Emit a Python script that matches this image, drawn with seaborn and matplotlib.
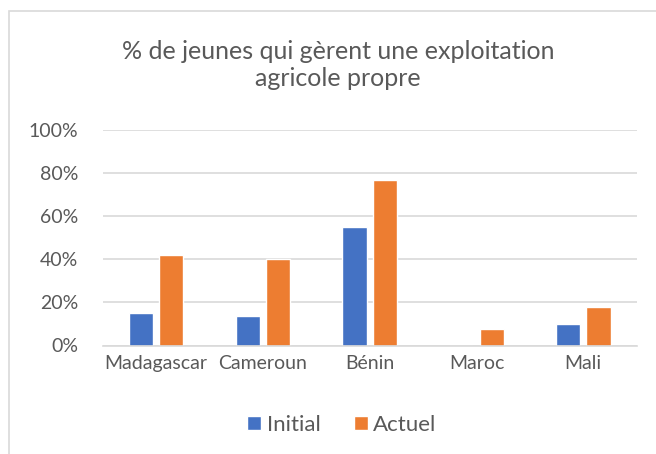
import matplotlib
matplotlib.use("Agg")
import matplotlib.pyplot as plt
import matplotlib.patches as mpatches
import pandas as pd
import seaborn as sns
from matplotlib.ticker import PercentFormatter

# values
countries = ["Madagascar", "Cameroun", "Bénin", "Maroc", "Mali"]
initial = [0.15, 0.135, 0.55, 0.0, 0.10]
actuel = [0.42, 0.40, 0.77, 0.075, 0.18]
series = ["Initial", "Actuel"]
colors = ["#4472C4", "#ED7D31"]
title = "% de jeunes qui gèrent une exploitation\nagricole propre"

df = pd.DataFrame({
    "pays": countries * 2,
    "serie": [series[0]] * len(countries) + [series[1]] * len(countries),
    "valeur": initial + actuel,
})

sns.set_theme(style="white")
plt.rcParams["font.family"] = ["Lato", "DejaVu Sans"]
txt = "#595959"

W, H = 656, 454
fig = plt.figure(figsize=(W / 100, H / 100), dpi=100)
left, right, top, bottom = 102.7, 636.7, 130, 345.5
ax = fig.add_axes([left / W, 1 - bottom / H, (right - left) / W, (bottom - top) / H])

sns.barplot(data=df, x="pays", y="valeur", hue="serie", order=countries,
            hue_order=series, palette=colors, width=0.57, gap=0.2,
            saturation=1, ax=ax, legend=True)

ax.set_ylim(0, 1.0)
ax.set_xlim(-0.5, 4.5)
ax.set_yticks([0, 0.2, 0.4, 0.6, 0.8, 1.0])
ax.yaxis.set_major_formatter(PercentFormatter(1.0, decimals=0))
ax.grid(axis="y", color="#D9D9D9", linewidth=1.2)
ax.set_axisbelow(True)
for s in ["top", "right", "left"]:
    ax.spines[s].set_visible(False)
ax.spines["bottom"].set_color("#D9D9D9")
ax.spines["bottom"].set_linewidth(1.2)
ax.tick_params(axis="both", length=0, labelsize=14, colors=txt)
ax.tick_params(axis="y", pad=17.5)
ax.tick_params(axis="x", pad=7)
ax.set_xlabel("")
ax.set_ylabel("")

leg_x = (342 - left) / (right - left)
leg_y = (bottom - 425) / (bottom - top)
leg = ax.legend(loc="center", bbox_to_anchor=(leg_x, leg_y), ncol=2,
                frameon=False, fontsize=16, handlelength=0.62, handleheight=0.62,
                handletextpad=0.25, columnspacing=1.5, labelcolor=txt)

fig.text(338 / W, 1 - 65 / H, title, ha="center", va="center", fontsize=18,
         color=txt, linespacing=1.25)

# light chart-area frame as in the office export
fig.patches.append(mpatches.Rectangle((9 / W, -0.05), 1.2, 1 - 11 / H + 0.05,
                                      transform=fig.transFigure, fill=False,
                                      edgecolor="#D9D9D9", linewidth=1.2))

fig.savefig("out.png", dpi=100)
